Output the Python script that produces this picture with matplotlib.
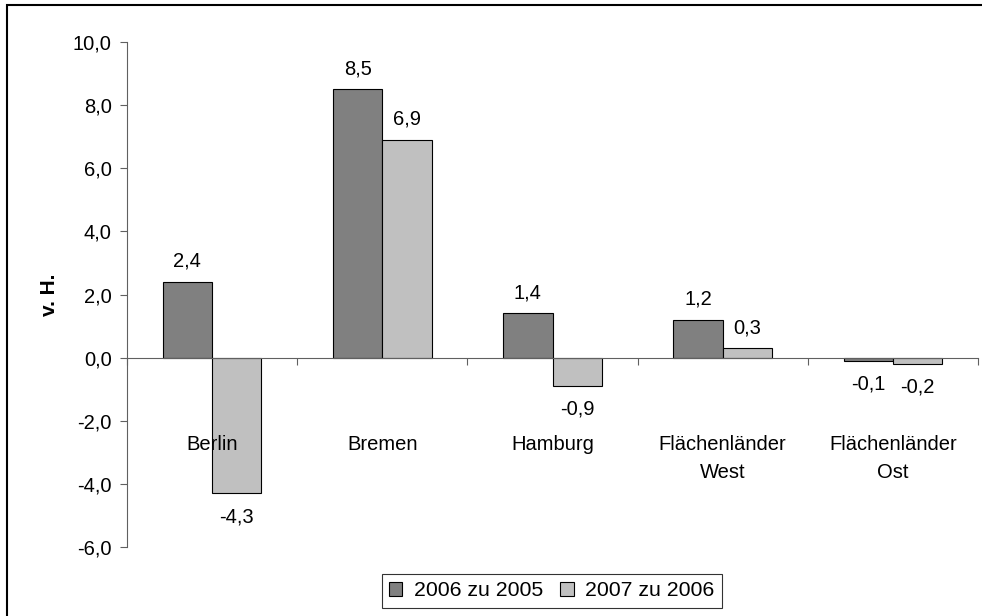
import matplotlib
matplotlib.use("Agg")
import matplotlib.pyplot as plt
import matplotlib.patches as patches
from matplotlib.ticker import FuncFormatter, FixedLocator
import numpy as np

plt.rcParams['font.family'] = ['Liberation Sans', 'DejaVu Sans']

categories = ["Berlin", "Bremen", "Hamburg", "Flächenländer\nWest", "Flächenländer\nOst"]
series_names = ["2006 zu 2005", "2007 zu 2006"]
vals_2006 = [2.4, 8.5, 1.4, 1.2, -0.1]
vals_2007 = [-4.3, 6.9, -0.9, 0.3, -0.2]
yticks = [-6, -4, -2, 0, 2, 4, 6, 8, 10]

FS = 14.5

def de_fmt(v, pos=None):
	return f"{v:.1f}".replace(".", ",")

fig = plt.figure(figsize=(9.82, 6.16), dpi=100)
ax = fig.add_axes([0.1293, 0.112, 0.8667, 0.8198])
ax.set_axisbelow(False)

x = np.arange(len(categories))
w = 0.29
b1 = ax.bar(x - w/2, vals_2006, w, color="#808080", edgecolor="black", linewidth=0.8, label=series_names[0], zorder=2)
b2 = ax.bar(x + w/2, vals_2007, w, color="#c0c0c0", edgecolor="black", linewidth=0.8, label=series_names[1], zorder=2)

#value labels above / below the bars
for bars, vals in ((b1, vals_2006), (b2, vals_2007)):
	for rect, v in zip(bars, vals):
		cx = rect.get_x() + rect.get_width()/2
		if v >= 0:
			ax.annotate(de_fmt(v), (cx, v), xytext=(0, 8), textcoords="offset points",
				ha="center", va="bottom", fontsize=FS)
		else:
			ax.annotate(de_fmt(v), (cx, v), xytext=(0, -10), textcoords="offset points",
				ha="center", va="top", fontsize=FS)

ax.set_xlim(-0.5, len(categories) - 0.5)
ax.set_ylim(-6, 10)
ax.set_yticks(yticks)
ax.yaxis.set_major_formatter(FuncFormatter(de_fmt))
ax.tick_params(axis="y", direction="out", length=5, width=0.8, color="#606060", labelsize=FS, pad=6)

#category labels sit far below the zero line, boundary ticks on the zero line
ax.set_xticks([])
for xi, cat in zip(x, categories):
	ax.annotate(cat, (xi, 0), xytext=(0, -56), textcoords="offset points", ha="center", va="top",
		fontsize=FS, linespacing=1.55, zorder=3)
ax.xaxis.set_minor_locator(FixedLocator(np.arange(len(categories) + 1) - 0.5))
ax.tick_params(axis="x", which="minor", direction="out", length=5, width=0.8, color="#606060")

for s in ["top", "right"]:
	ax.spines[s].set_visible(False)
ax.spines["left"].set_color("#606060")
ax.spines["left"].set_linewidth(0.8)
ax.spines["bottom"].set_position(("data", 0))
ax.spines["bottom"].set_color("#606060")
ax.spines["bottom"].set_linewidth(0.8)

ax.set_ylabel("v. H.", fontsize=15, fontweight="bold", labelpad=10)

leg = fig.legend(handles=[b1, b2], loc="center", bbox_to_anchor=(0.562, 0.041), ncol=2,
	fontsize=15.3, frameon=True, fancybox=False, edgecolor="black", handlelength=0.62,
	handleheight=0.62, handletextpad=0.55, columnspacing=0.8, borderpad=0.35)
leg.get_frame().set_linewidth(0.8)

#outer border of the chart area
fig.patches.append(patches.Rectangle((7/982, -0.05), 1.1, 1 - 5/616 + 0.05, transform=fig.transFigure,
	fill=False, edgecolor="black", linewidth=1.5))

fig.savefig("out.png", dpi=100)
